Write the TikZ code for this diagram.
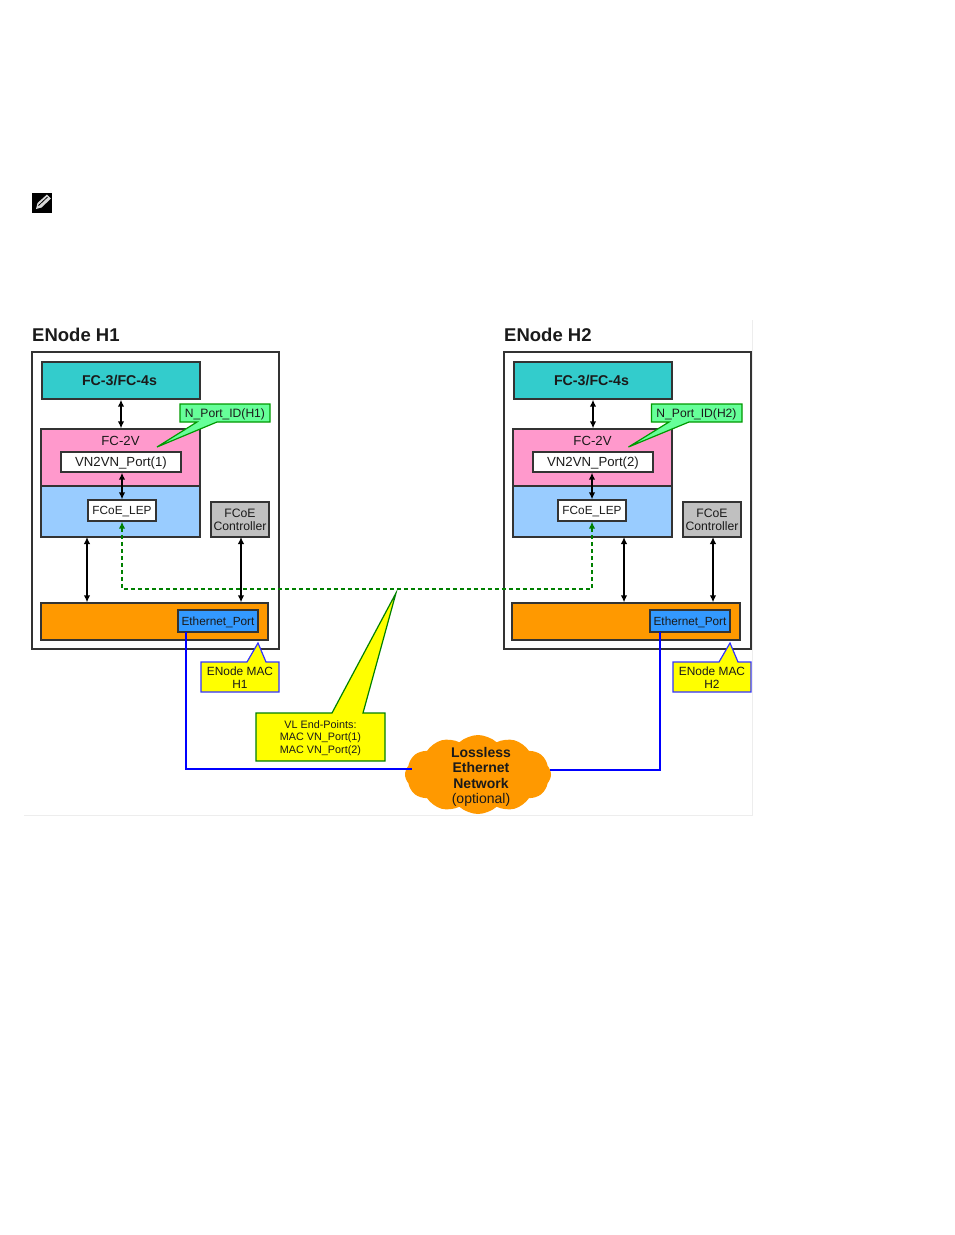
\documentclass[tikz,border=0pt]{standalone}
\usepackage{fontspec}
\setmainfont{Liberation Sans}
\usetikzlibrary{shapes.symbols,arrows.meta}
\definecolor{txtgray}{HTML}{1A1A1A}
\definecolor{boxgray}{HTML}{333333}
\definecolor{tealfc}{HTML}{33CCCC}
\definecolor{pinkfc}{HTML}{FF99CC}
\definecolor{bluefc}{HTML}{99CCFF}
\definecolor{orangemac}{HTML}{FF9900}
\definecolor{blueport}{HTML}{3399FF}
\definecolor{greytag}{HTML}{C0C0C0}
\definecolor{greentag}{HTML}{66FF99}
\definecolor{greenline}{HTML}{008000}
\definecolor{yellowtag}{HTML}{FFFF00}
\tikzset{
  box/.style={draw=boxgray,line width=1.3pt,inner sep=0pt,align=center,text=txtgray},
  txt/.style={inner sep=0pt,align=center,text=txtgray},
  lbl/.style={text height=9pt,text depth=1pt},
  lnk/.style={{Latex[length=7pt,width=6.5pt]}-{Latex[length=7pt,width=6.5pt]},black,line width=1.5pt},
  vlink/.style={{Latex[length=7pt,width=6.5pt]}-{Latex[length=7pt,width=6.5pt]},greenline,line width=1.4pt,dash pattern=on 4.5pt off 2.5pt},
  wire/.style={blue,line width=2.6pt},
  greencall/.style={fill=greentag,draw=greenline!80!green,line width=1.2pt},
  mac/.style={fill=yellowtag,draw=blue!80,line width=1.2pt},
  vlcall/.style={fill=yellowtag,draw=greenline,line width=1.2pt}
}
\begin{document}
\begin{tikzpicture}[x=1pt,y=-1pt]
  \useasboundingbox (0,0) rectangle (954,1235);
  % note icon
  \fill[black] (32,193) rectangle (52,213);
  \fill[white!85!black] (36,209) -- (37.5,203) -- (47,194.5) -- (51,198.5) -- (41.5,207.5) -- cycle;
  \draw[black,line width=0.8pt] (38.5,205.5) -- (47.5,197);
  % frame of the figure
  \draw[black!7,line width=0.8pt] (752,320) -- (752,815) -- (24,815);
  % host 1
  \node[txt,font=\bfseries\fontsize{18.5}{20}\selectfont,anchor=west] (title1) at (32,335) {ENode H1};
  \node[box,minimum width=247,minimum height=297] (outer1) at (155.5,500.5) {};
  \node[box,fill=tealfc,minimum width=158,minimum height=37,font=\bfseries\fontsize{14.2}{16}\selectfont] (fc3a) at (121,380.5) {FC-3/FC-4s\hspace*{3pt}};
  \node[box,fill=pinkfc,minimum width=159,minimum height=57] (fc2a) at (120.5,457.5) {};
  \node[txt,font=\fontsize{13.2}{15}\selectfont] (fc2txta) at (120.5,441) {FC-2V};
  \node[box,lbl,fill=white,minimum width=120,minimum height=20,font=\fontsize{13.2}{15}\selectfont] (vna) at (121,462) {VN2VN\_Port(1)};
  \node[box,fill=bluefc,minimum width=159,minimum height=51] (lepboxa) at (120.5,511.5) {};
  \node[box,lbl,fill=white,minimum width=68,minimum height=21,font=\fontsize{11.8}{14}\selectfont] (lepa) at (122,510.5) {FCoE\_LEP};
  \node[box,fill=greytag,minimum width=58,minimum height=35,font=\fontsize{12.2}{13}\selectfont] (ctrla) at (240,519.5) {FCoE\\Controller};
  \node[box,fill=orangemac,minimum width=227,minimum height=37] (maca) at (154.5,621.5) {};
  \node[box,lbl,fill=blueport,minimum width=80,minimum height=22,font=\fontsize{11.8}{14}\selectfont] (etha) at (218,621) {Ethernet\_Port};
  % host 2
  \node[txt,font=\bfseries\fontsize{18.5}{20}\selectfont,anchor=west] (title2) at (504,335) {ENode H2};
  \node[box,minimum width=247,minimum height=297] (outer2) at (627.5,500.5) {};
  \node[box,fill=tealfc,minimum width=158,minimum height=37,font=\bfseries\fontsize{14.2}{16}\selectfont] (fc3b) at (593,380.5) {FC-3/FC-4s\hspace*{3pt}};
  \node[box,fill=pinkfc,minimum width=159,minimum height=57] (fc2b) at (592.5,457.5) {};
  \node[txt,font=\fontsize{13.2}{15}\selectfont] (fc2txtb) at (592.5,441) {FC-2V};
  \node[box,lbl,fill=white,minimum width=120,minimum height=20,font=\fontsize{13.2}{15}\selectfont] (vnb) at (593,462) {VN2VN\_Port(2)};
  \node[box,fill=bluefc,minimum width=159,minimum height=51] (lepboxb) at (592.5,511.5) {};
  \node[box,lbl,fill=white,minimum width=68,minimum height=21,font=\fontsize{11.8}{14}\selectfont] (lepb) at (592,510.5) {FCoE\_LEP};
  \node[box,fill=greytag,minimum width=58,minimum height=35,font=\fontsize{12.2}{13}\selectfont] (ctrlb) at (712,519.5) {FCoE\\Controller};
  \node[box,fill=orangemac,minimum width=228,minimum height=37] (macb) at (626,621.5) {};
  \node[box,lbl,fill=blueport,minimum width=80,minimum height=22,font=\fontsize{11.8}{14}\selectfont] (ethb) at (690,621) {Ethernet\_Port};
  % arrows inside the hosts
  \coordinate (upa) at (87,537);
  \coordinate (upb) at (624,537);
  \coordinate (upca) at (241,537);
  \coordinate (upcb) at (713,537);
  \draw[lnk] (fc3a.south) -- (fc2a.north -| fc3a.south);
  \draw[lnk] (vna.south -| lepa.north) -- (lepa.north);
  \draw[lnk] (upa) -- (upa |- maca.north);
  \draw[lnk] (upca) -- (upca |- maca.north);
  \draw[lnk] (fc3b.south) -- (fc2b.north -| fc3b.south);
  \draw[lnk] (vnb.south -| lepb.north) -- (lepb.north);
  \draw[lnk] (upb) -- (upb |- macb.north);
  \draw[lnk] (upcb) -- (upcb |- macb.north);
  % virtual link
  \coordinate (vlmid) at (356,589);
  \draw[vlink] (lepa.south) |- (vlmid) -| (lepb.south);
  % callouts
  \draw[greencall] (180,404) -- (270,404) -- (270,422) -- (217,422) -- (157,447) -- (197,422) -- (180,422) -- cycle;
  \node[txt,lbl,font=\fontsize{12.1}{15}\selectfont] (nida) at (225,413.5) {N\_Port\_ID(H1)};
  \draw[greencall] (651.5,404) -- (742,404) -- (742,422) -- (689,422) -- (628.5,447) -- (669,422) -- (651.5,422) -- cycle;
  \node[txt,lbl,font=\fontsize{12.1}{15}\selectfont] (nidb) at (696.5,413.5) {N\_Port\_ID(H2)};
  \draw[mac] (201,662) -- (247,662) -- (258,643) -- (266,662) -- (279,662) -- (279,692) -- (201,692) -- cycle;
  \node[txt,font=\fontsize{11.9}{13}\selectfont] (addra) at (240,677.5) {ENode MAC\\H1};
  \draw[mac] (673,662) -- (719,662) -- (730,643) -- (738,662) -- (751,662) -- (751,692) -- (673,692) -- cycle;
  \node[txt,font=\fontsize{11.9}{13}\selectfont] (addrb) at (712,677.5) {ENode MAC\\H2};
  \draw[vlcall] (256,713) -- (332,713) -- (396,593) -- (363,713) -- (385,713) -- (385,761) -- (256,761) -- cycle;
  \node[txt,font=\fontsize{10.8}{12.2}\selectfont] (vlep) at (320.5,738) {VL End-Points:\\MAC VN\_Port(1)\\MAC VN\_Port(2)};
  % network
  \node[cloud,cloud puffs=12,cloud puff arc=85,aspect=1.85,fill=orangemac,inner sep=0pt,minimum width=146,minimum height=79] (net) at (478,774.5) {};
  \node[txt,font=\fontsize{14}{15.5}\selectfont] (nettxt) at (481,777) {\textbf{Lossless}\\\textbf{Ethernet}\\\textbf{Network}\\(optional)};
  \coordinate (etoa) at (186,632);
  \coordinate (etob) at (660,632);
  \coordinate (neta) at (412,769);
  \coordinate (netb) at (550,770);
  \draw[wire] (etoa) |- (neta);
  \draw[wire] (etob) |- (netb);
\end{tikzpicture}
\end{document}
